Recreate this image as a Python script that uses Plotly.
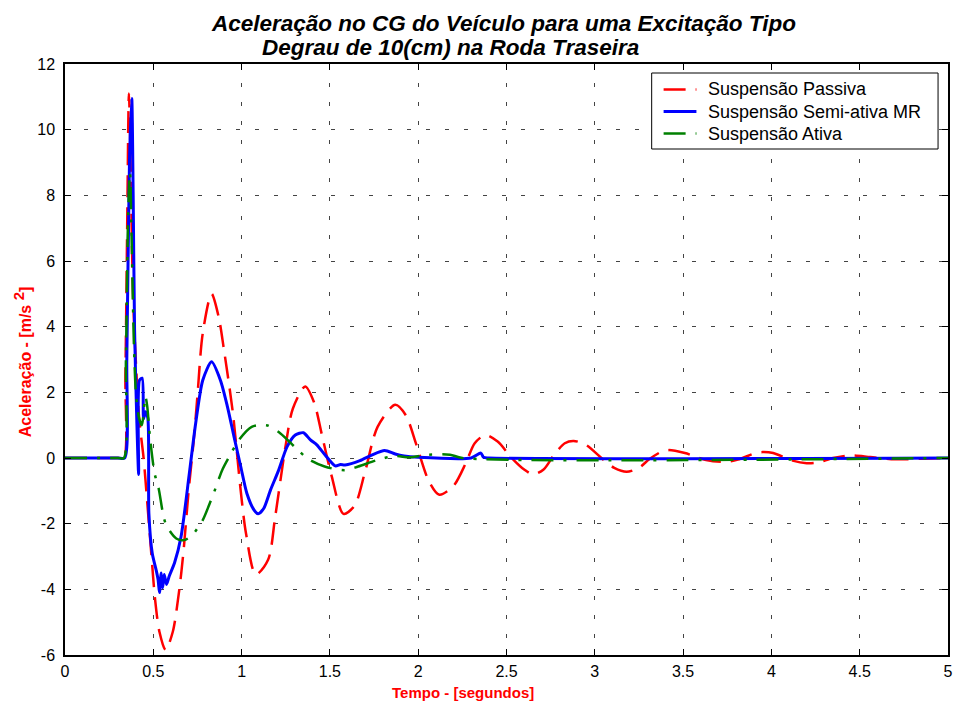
import plotly.graph_objects as go

# Tempo (s) e aceleração (m/s^2) no CG — suspensão passiva
t_passiva = [0.0, 0.30, 0.333, 0.342, 0.352, 0.362, 0.372, 0.385, 0.397, 0.42, 0.445,
             0.465, 0.49, 0.51, 0.535, 0.57, 0.61, 0.645, 0.67, 0.70, 0.73, 0.75, 0.78,
             0.83, 0.87, 0.90, 0.95, 0.995, 1.025, 1.08, 1.15, 1.19, 1.25, 1.29, 1.36,
             1.41, 1.455, 1.51, 1.577, 1.64, 1.70, 1.77, 1.87, 1.93, 1.99, 2.06, 2.12,
             2.20, 2.27, 2.32, 2.38, 2.45, 2.53, 2.60, 2.65, 2.71, 2.77, 2.83, 2.88,
             2.95, 3.05, 3.11, 3.18, 3.25, 3.31, 3.38, 3.42, 3.51, 3.63, 3.74, 3.81,
             3.91, 3.95, 4.01, 4.12, 4.20, 4.26, 4.35, 4.45, 4.56, 4.70, 4.85, 5.0]
a_passiva = [0.0, 0.0, 0.0, 2.5, 7.0, 11.1, 8.8, 5.0, 3.4, 1.2, 0.0,
             -1.3, -3.0, -4.3, -5.3, -5.85, -5.3, -4.1, -2.9, -1.0, 0.6, 1.9, 3.8,
             5.0, 4.3, 3.3, 1.4, -1.0, -2.3, -3.55, -3.1, -1.8, 0.4, 1.5, 2.18,
             1.7, 0.7, -0.55, -1.7, -1.45, -0.4, 0.95, 1.62, 1.3, 0.4, -0.7, -1.12,
             -0.85, -0.15, 0.45, 0.7, 0.5, 0.0, -0.35, -0.5, -0.35, 0.1, 0.45, 0.52,
             0.4, -0.06, -0.3, -0.42, -0.3, -0.03, 0.2, 0.24, 0.15, -0.06, -0.12, -0.05,
             0.15, 0.18, 0.15, -0.08, -0.16, -0.14, 0.0, 0.08, 0.03, -0.04, -0.02, 0.0]

# Suspensão semi-ativa MR
t_semiativa = [0.0, 0.30, 0.338, 0.35, 0.365, 0.378, 0.386, 0.394, 0.407, 0.417, 0.422,
               0.437, 0.445, 0.456, 0.469, 0.475, 0.494, 0.516, 0.527, 0.535, 0.545,
               0.553, 0.562, 0.575, 0.59, 0.62, 0.657, 0.704, 0.74, 0.78, 0.83, 0.88,
               0.92, 0.957, 0.995, 1.03, 1.07, 1.094, 1.126, 1.164, 1.21, 1.257, 1.304,
               1.35, 1.39, 1.426, 1.473, 1.53, 1.56, 1.586, 1.67, 1.736, 1.81, 1.87,
               1.92, 2.0, 2.30, 2.355, 2.37, 2.40, 5.0]
a_semiativa = [0.0, 0.0, 0.0, 3.0, 9.0, 10.95, 8.0, 3.9, 1.06, -0.5, 2.37,
               2.43, 1.2, 1.41, 1.21, -1.69, -2.9, -3.41, -3.7, -4.1, -3.5,
               -3.95, -3.55, -3.85, -3.6, -3.2, -2.4, -0.47, 1.06, 2.37, 2.93, 2.37,
               1.56, 0.65, -0.26, -1.08, -1.58, -1.7, -1.53, -0.97, -0.37, 0.34, 0.7,
               0.77, 0.55, 0.4, 0.09, -0.24, -0.2, -0.21, -0.08, 0.09, 0.23, 0.12,
               0.06, 0.02, 0.0, 0.15, 0.02, 0.0, 0.0]

# Suspensão ativa
t_ativa = [0.0, 0.30, 0.333, 0.345, 0.358, 0.368, 0.378, 0.39, 0.403, 0.42, 0.435,
           0.455, 0.465, 0.48, 0.507, 0.53, 0.57, 0.63, 0.675, 0.72, 0.78, 0.816,
           0.845, 0.89, 0.93, 0.985, 1.057, 1.14, 1.22, 1.31, 1.38, 1.47, 1.586,
           1.66, 1.77, 1.87, 1.95, 2.06, 2.18, 2.25, 5.0]
a_ativa = [0.0, 0.0, 0.0, 3.0, 7.5, 8.7, 6.5, 3.5, 1.87, 1.2, 1.0,
           1.87, 1.6, 0.7, -0.46, -0.92, -2.0, -2.45, -2.5, -2.35, -1.89, -1.43,
           -1.03, -0.37, 0.04, 0.55, 0.95, 1.0, 0.75, 0.29, -0.04, -0.26, -0.37,
           -0.26, -0.06, 0.06, 0.02, 0.1, 0.1, 0.0, 0.0]

x_ticks = [0, 0.5, 1, 1.5, 2, 2.5, 3, 3.5, 4, 4.5, 5]
y_ticks = [-6, -4, -2, 0, 2, 4, 6, 8, 10, 12]

series_names = ["Suspensão Passiva", "Suspensão Semi-ativa MR", "Suspensão Ativa"]
series_colors = ["#ff0000", "#0000ff", "#008000"]
series_dash = ["22px,10px", "solid", "22px,10px,3px,10px"]
series_width = [2.5, 3, 2.5]

FONT = "Liberation Sans, Arial, sans-serif"

fig = go.Figure()
for t, a, name, color, dash, w, sm in zip(
        [t_passiva, t_semiativa, t_ativa], [a_passiva, a_semiativa, a_ativa],
        series_names, series_colors, series_dash, series_width, [0.8, 0.7, 0.8]):
    fig.add_trace(go.Scatter(
        x=t, y=a, mode="lines", name=name, showlegend=False,
        line=dict(color=color, width=w, dash=dash, shape="spline", smoothing=sm),
    ))

axis_common = dict(
    showline=True, linecolor="black", linewidth=1.5, mirror="allticks",
    ticks="inside", ticklen=6, tickwidth=1, tickcolor="black",
    showgrid=True, gridcolor="#444444", griddash="4px,15px", gridwidth=1,
    zeroline=False, tickfont=dict(family=FONT, size=16, color="black"),
)

fig.update_xaxes(range=[0, 5], tickvals=x_ticks, ticktext=[f"{v:g}" for v in x_ticks],
                 ticklabelstandoff=1, **axis_common)
fig.update_yaxes(range=[-6, 12], tickvals=y_ticks, ticktext=[f"{v:g}" for v in y_ticks],
                 ticklabelstandoff=5, **axis_common)

# Plot-area geometry (pixels) used to place the boxed legend in paper units
L, R, T, B = 65, 953, 64, 655


def px(xp):
    return (xp - L) / (R - L)


def py(yp):
    return (B - yp) / (B - T)


shapes = [dict(type="rect", xref="paper", yref="paper",
               x0=px(655), x1=px(943), y0=py(149), y1=py(73),
               line=dict(color="black", width=1), fillcolor="white", layer="above")]
annotations = []
for i, (name, color, dash, w) in enumerate(zip(series_names, series_colors, series_dash, series_width)):
    yrow = 89.5 + 22 * i
    shapes.append(dict(type="line", xref="paper", yref="paper",
                       x0=px(667), x1=px(700), y0=py(yrow), y1=py(yrow),
                       line=dict(color=color, width=w, dash=dash), layer="above"))
    annotations.append(dict(text=name, xref="paper", yref="paper", x=px(710), y=py(yrow),
                            xanchor="left", yanchor="middle", showarrow=False,
                            font=dict(family=FONT, size=18, color="black")))

annotations += [
    dict(text="<b><i>Aceleração no CG do Veículo para uma Excitação Tipo</i></b>",
         xref="paper", yref="paper", x=px(506), y=py(24), xanchor="center", yanchor="middle",
         showarrow=False, font=dict(family=FONT, size=22.5, color="black")),
    dict(text="<b><i>Degrau de 10(cm) na Roda Traseira</i></b>",
         xref="paper", yref="paper", x=px(261), y=py(47), xanchor="left", yanchor="middle",
         showarrow=False, font=dict(family=FONT, size=22.5, color="black")),
    dict(text="<b>Tempo - [segundos]</b>",
         xref="paper", yref="paper", x=px(465), y=py(693), xanchor="center", yanchor="middle",
         showarrow=False, font=dict(family=FONT, size=15, color="#ff0000")),
    dict(text="<b>Aceleração - [m/s <sup><span style='font-size:15px'>2</span></sup>]</b>",
         xref="paper", yref="paper", x=px(22), y=py(362), xanchor="center", yanchor="middle",
         textangle=-90, showarrow=False, font=dict(family=FONT, size=16, color="#ff0000")),
]

fig.update_layout(
    width=959, height=704,
    margin=dict(l=L, r=959 - R, t=T, b=704 - B),
    paper_bgcolor="white", plot_bgcolor="white",
    font=dict(family=FONT, color="black"),
    showlegend=False,
    shapes=shapes,
    annotations=annotations,
)

fig.write_html("out.html")
